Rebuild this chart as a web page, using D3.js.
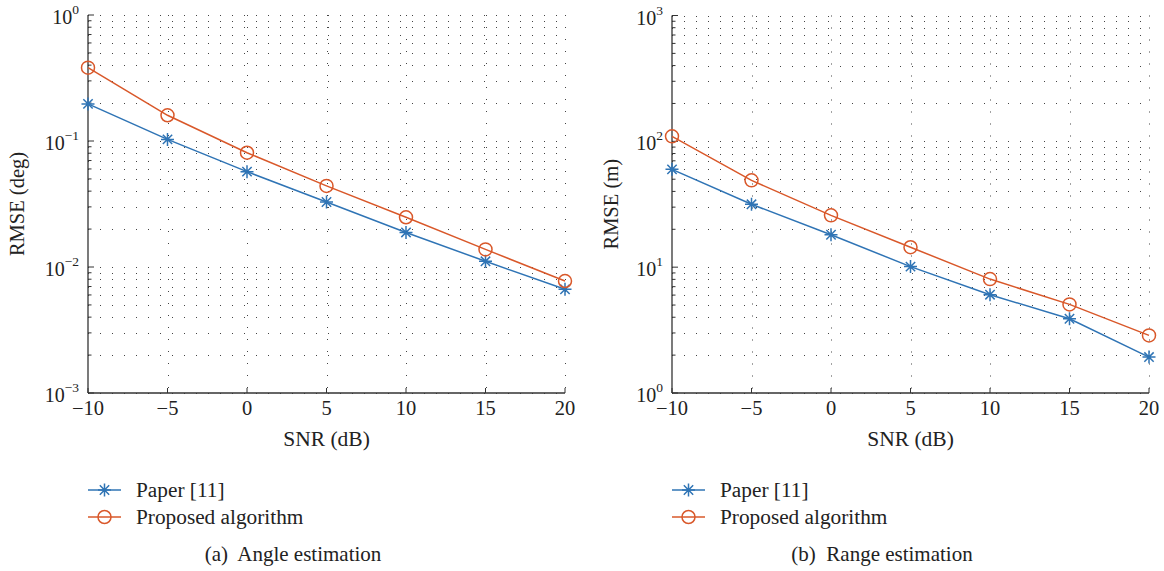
<!DOCTYPE html>
<html><head><meta charset="utf-8">
<script src="https://cdn.jsdelivr.net/npm/d3@7"></script>
<style>body{margin:0;background:#fff}svg{display:block}text{font-family:"Liberation Serif","Times New Roman",serif;fill:#222}</style>
</head><body><svg id="c" width="1164" height="571"></svg>
<script>
const snr = [-10, -5, 0, 5, 10, 15, 20];
const xTicks = [-10, -5, 0, 5, 10, 15, 20];
const anglePaper = [0.197, 0.103, 0.0571, 0.0328, 0.0188, 0.0111, 0.00665];
const angleProposed = [0.382, 0.160, 0.0807, 0.0440, 0.0248, 0.0138, 0.00774];
const rangePaper = [59.9, 31.6, 18.1, 10.1, 6.04, 3.89, 1.93];
const rangeProposed = [109.6, 49.0, 25.8, 14.4, 8.04, 5.06, 2.87];
const angleExp = [-3, -2, -1, 0];
const rangeExp = [0, 1, 2, 3];
const seriesNames = ["Paper [11]", "Proposed algorithm"];
const colors = ["#2f74b5", "#d9582a"];

const svg = d3.select("#c");

function drawPanel(o) {
  const g = svg.append("g");
  const x = d3.scaleLinear().domain([-10, 20]).range([o.left, o.right]);
  const y = d3.scaleLog().domain([Math.pow(10, o.exps[0]), Math.pow(10, o.exps[o.exps.length - 1])]).range([o.bottom, o.top]);
  const gridVals = [];
  for (let i = 0; i < o.exps.length; i++) {
    const e = o.exps[i];
    gridVals.push({v: Math.pow(10, e), major: true});
    if (i < o.exps.length - 1) for (let m = 2; m <= 9; m++) gridVals.push({v: m * Math.pow(10, e), major: false});
  }
  const grid = g.append("g").attr("stroke", "#444").attr("stroke-width", 1).attr("stroke-dasharray", "1,11");
  grid.selectAll("line.h").data(gridVals).join("line")
    .attr("x1", o.left).attr("x2", o.right)
    .attr("y1", d => Math.round(y(d.v)) + 0.5).attr("y2", d => Math.round(y(d.v)) + 0.5);
  grid.selectAll("line.v").data(xTicks.slice(1)).join("line")
    .attr("x1", d => Math.round(x(d)) + 0.5).attr("x2", d => Math.round(x(d)) + 0.5)
    .attr("y1", o.top).attr("y2", o.bottom);

  const ax = g.append("g").attr("stroke", "#333").attr("stroke-width", 1.3);
  ax.append("line").attr("x1", o.left).attr("x2", o.left).attr("y1", o.top).attr("y2", o.bottom);
  ax.append("line").attr("x1", o.left).attr("x2", o.right).attr("y1", o.bottom).attr("y2", o.bottom);
  ax.selectAll("line.yt").data(gridVals).join("line")
    .attr("x1", o.left).attr("x2", d => o.left + (d.major ? 6 : 3.5))
    .attr("y1", d => y(d.v)).attr("y2", d => y(d.v)).attr("stroke-width", 1);
  ax.selectAll("line.xt").data(xTicks).join("line")
    .attr("x1", d => x(d)).attr("x2", d => x(d))
    .attr("y1", o.bottom).attr("y2", o.bottom - 5).attr("stroke-width", 1);

  o.exps.forEach(e => {
    const t = g.append("text").attr("x", o.left - 9).attr("y", y(Math.pow(10, e)) + 9)
      .attr("text-anchor", "end").attr("font-size", 20);
    t.append("tspan").text("10");
    t.append("tspan").attr("font-size", 13.5).attr("dy", -10).text(e < 0 ? "\u2212" + (-e) : String(e));
  });
  g.selectAll("text.xl").data(xTicks).join("text")
    .attr("x", d => x(d)).attr("y", o.bottom + 22).attr("text-anchor", "middle").attr("font-size", 20.5)
    .text(d => d < 0 ? "\u2212" + (-d) : String(d));
  g.append("text").attr("x", (o.left + o.right) / 2).attr("y", 446).attr("text-anchor", "middle")
    .attr("font-size", 21.5).text("SNR (dB)");
  g.append("text").attr("transform", `translate(${o.ylabX},${(o.top + o.bottom) / 2}) rotate(-90)`)
    .attr("text-anchor", "middle").attr("font-size", 20.5).text(o.ylabel);

  const line = d3.line().x((d, i) => x(snr[i])).y(d => y(d));
  o.series.forEach((s, k) => {
    g.append("path").datum(s).attr("d", line).attr("fill", "none").attr("stroke", colors[k]).attr("stroke-width", 1.5);
    const pts = g.append("g");
    s.forEach((v, i) => drawMarker(pts, k, x(snr[i]), y(v)));
  });

  seriesNames.forEach((name, k) => {
    const ly = 490 + k * 27;
    g.append("line").attr("x1", o.left).attr("x2", o.left + 33).attr("y1", ly).attr("y2", ly)
      .attr("stroke", colors[k]).attr("stroke-width", 1.5);
    drawMarker(g, k, o.left + 16.5, ly);
    g.append("text").attr("x", o.left + 48).attr("y", ly + 7).attr("font-size", 21.3).text(name);
  });
  g.append("text").attr("x", o.capX).attr("y", 561).attr("text-anchor", "middle").attr("font-size", 21)
    .attr("xml:space", "preserve").text(o.caption);
}

function drawMarker(sel, k, cx, cy) {
  if (k === 0) {
    const r = 6.5, rd = r * 0.72;
    const p = `M${cx - r},${cy}L${cx + r},${cy}M${cx},${cy - r}L${cx},${cy + r}` +
      `M${cx - rd},${cy - rd}L${cx + rd},${cy + rd}M${cx - rd},${cy + rd}L${cx + rd},${cy - rd}`;
    sel.append("path").attr("d", p).attr("stroke", colors[0]).attr("stroke-width", 1.5).attr("fill", "none");
  } else {
    sel.append("circle").attr("cx", cx).attr("cy", cy).attr("r", 6.5)
      .attr("fill", "none").attr("stroke", colors[1]).attr("stroke-width", 1.5);
  }
}

drawPanel({left: 88, right: 565, top: 15, bottom: 393, exps: angleExp, ylabel: "RMSE (deg)", ylabX: 24,
  series: [anglePaper, angleProposed], caption: "(a)  Angle estimation", capX: 293});
drawPanel({left: 672, right: 1149, top: 15.5, bottom: 393, exps: rangeExp, ylabel: "RMSE (m)", ylabX: 618,
  series: [rangePaper, rangeProposed], caption: "(b)  Range estimation", capX: 882});
</script></body></html>
